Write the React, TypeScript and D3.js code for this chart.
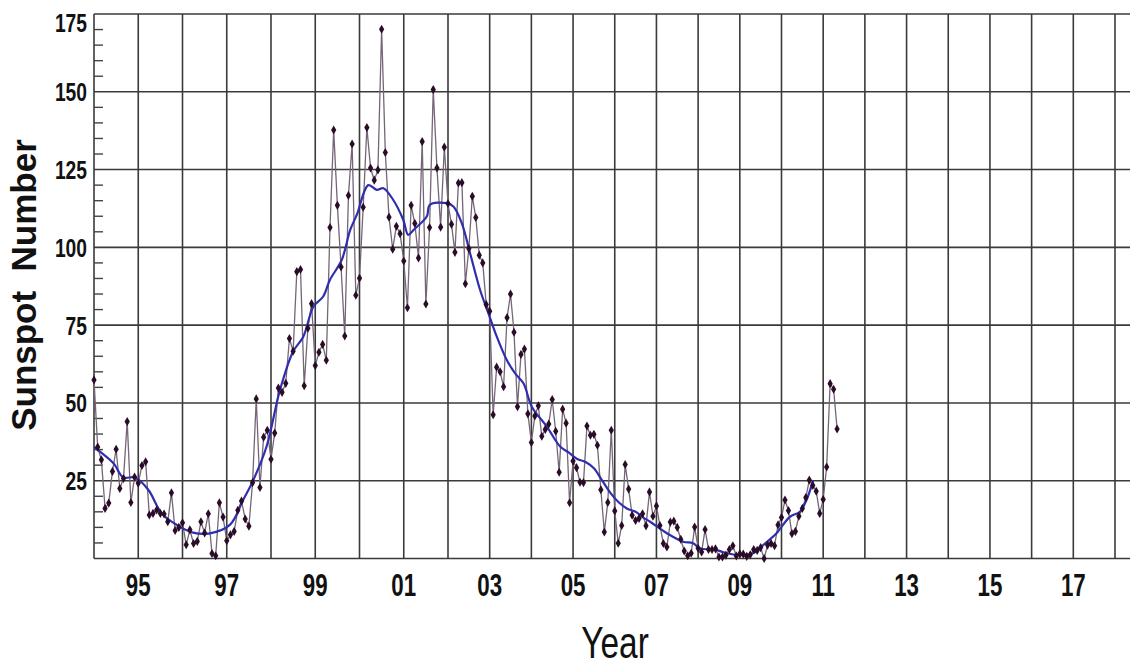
import { useEffect, useRef } from "react";
import * as d3 from "d3";

const START_YEAR = 1994;

// monthly sunspot numbers, one value per month from Jan 1994
const monthly: number[] = [
  // 1994
  57.4, 35.8, 31.7, 16.1, 17.8, 28.0, 35.1, 22.5, 25.7, 44.0, 18.0, 26.2,
  // 1995
  24.2, 29.9, 31.1, 14.0, 14.5, 15.6, 14.5, 14.3, 11.8, 21.1, 9.0, 10.0,
  // 1996
  11.5, 4.4, 9.2, 4.8, 5.5, 11.8, 8.2, 14.4, 1.6, 0.9, 17.9, 13.3,
  // 1997
  5.7, 7.6, 8.7, 15.5, 18.5, 12.7, 10.4, 24.4, 51.3, 22.8, 39.0, 41.2,
  // 1998
  31.9, 40.3, 54.8, 53.4, 56.3, 70.7, 66.6, 92.2, 92.9, 55.5, 74.0, 81.9,
  // 1999
  62.0, 66.3, 68.8, 63.7, 106.4, 137.7, 113.5, 93.7, 71.5, 116.7, 133.2, 84.6,
  // 2000
  90.1, 112.9, 138.5, 125.5, 121.6, 124.9, 170.1, 130.5, 109.7, 99.4, 106.8, 104.4,
  // 2001
  95.6, 80.6, 113.5, 107.7, 96.6, 134.0, 81.8, 106.4, 150.7, 125.5, 106.5, 132.2,
  // 2002
  114.1, 107.4, 98.4, 120.7, 120.8, 88.3, 99.6, 116.4, 109.6, 97.5, 95.0, 81.6,
  // 2003
  79.5, 46.2, 61.5, 60.0, 55.2, 77.4, 85.0, 72.7, 48.8, 65.6, 67.3, 46.5,
  // 2004
  37.3, 45.8, 49.1, 39.3, 41.5, 43.2, 51.1, 40.9, 27.7, 48.0, 43.5, 17.9,
  // 2005
  31.3, 29.2, 24.5, 24.4, 42.6, 39.6, 39.9, 36.4, 22.1, 8.5, 18.0, 41.2,
  // 2006
  15.3, 4.9, 10.6, 30.2, 22.3, 13.9, 12.2, 12.9, 14.4, 10.5, 21.4, 13.6,
  // 2007
  16.9, 10.6, 4.8, 3.7, 11.7, 12.0, 10.0, 6.2, 2.4, 0.9, 1.7, 10.1,
  // 2008
  3.3, 2.1, 9.3, 2.9, 2.9, 3.1, 0.5, 0.5, 1.1, 2.9, 4.1, 0.8,
  // 2009
  1.5, 1.4, 0.7, 1.2, 2.9, 2.6, 3.5, 0.0, 4.3, 4.8, 4.1, 10.8,
  // 2010
  13.2, 18.8, 15.4, 8.0, 8.7, 13.6, 16.1, 19.6, 25.2, 23.5, 21.6, 14.5,
  // 2011
  19.0, 29.4, 56.2, 54.4, 41.6,
];

// smoothed sunspot number (blue curve)
const smoothYears = [
  1994.0, 1994.44, 1994.66, 1994.93, 1995.23, 1995.53, 1995.87, 1996.24, 1996.62,
  1997.07, 1997.37, 1997.6, 1997.9, 1998.2, 1998.5, 1998.73, 1998.96, 1999.18,
  1999.33, 1999.6, 1999.79, 1999.94, 2000.2, 2000.39, 2000.54, 2000.76, 2000.99,
  2001.1, 2001.22, 2001.52, 2001.59, 2001.97, 2002.13, 2002.33, 2002.53, 2002.77,
  2002.97, 2003.17, 2003.41, 2003.61, 2003.81, 2004.01, 2004.37, 2004.69, 2004.9,
  2005.1, 2005.3, 2005.5, 2005.7, 2005.9, 2006.1, 2006.3, 2006.5, 2006.7, 2006.85,
  2007.25, 2007.64, 2007.88, 2008.04, 2008.44, 2008.68, 2009.08, 2009.32, 2009.56,
  2009.88, 2010.2, 2010.44, 2010.6, 2010.76,
];
const smoothValues = [
  35.8, 30.6, 26.1, 26.0, 22.0, 14.5, 10.8, 8.3, 8.1,
  10.8, 18.8, 25.2, 36.0, 54.0, 66.5, 71.3, 81.0, 84.2,
  89.5, 96.0, 105.6, 110.5, 120.0, 118.5, 119.0, 115.3, 108.8,
  104.0, 105.6, 109.9, 113.7, 114.2, 113.1, 107.8, 98.1, 86.3,
  78.8, 71.3, 63.8, 59.5, 56.3, 48.8, 42.4, 36.0, 34.0,
  32.0, 31.0, 29.0, 25.0, 21.0, 18.0, 16.0, 15.0, 13.0, 11.8,
  8.1, 5.4, 4.9, 3.3, 2.7, 1.7, 1.1, 1.7, 4.3,
  8.1, 13.4, 15.0, 18.8, 25.2,
];

const yTicks = [25, 50, 75, 100, 125, 150, 175];
const gridYears = d3.range(1995, 2019);
const labelYears = [1995, 1997, 1999, 2001, 2003, 2005, 2007, 2009, 2011, 2013, 2015, 2017];

const W = 1130;
const H = 666;
const FONT = "'Liberation Sans', Arial, sans-serif";

export default function App() {
  const svgRef = useRef<SVGSVGElement>(null);

  useEffect(() => {
    if (!svgRef.current) return;
    const svg = d3.select(svgRef.current);
    svg.selectAll("*").remove();

    const left = 94, top = 14, bottom = 558.5;

    // the source axis is slightly stretched before 2002
    const x = d3.scaleLinear().domain([1994, 2002, 2018]).range([left, 448, 1115]);
    const y = d3.scaleLinear().domain([0, 175]).range([bottom, top]);

    const grid = svg.append("g").attr("stroke", "#3a3a3a").attr("stroke-width", 1.6);

    // vertical grid
    gridYears.forEach((yr) => {
      grid.append("line")
        .attr("x1", x(yr)).attr("x2", x(yr))
        .attr("y1", top).attr("y2", bottom);
    });

    // horizontal grid + frame
    [0, ...yTicks].forEach((v) => {
      grid.append("line")
        .attr("x1", left).attr("x2", W)
        .attr("y1", y(v)).attr("y2", y(v));
    });
    grid.append("line")
      .attr("x1", left).attr("x2", left)
      .attr("y1", top).attr("y2", bottom);

    // minor ticks on the left edge, every 5
    d3.range(5, 175, 5).filter((v) => v % 25 !== 0).forEach((v) => {
      svg.append("line")
        .attr("x1", left).attr("x2", left + 9)
        .attr("y1", y(v)).attr("y2", y(v))
        .attr("stroke", "#444")
        .attr("stroke-width", 1.4);
    });

    // ── Monthly values ─────────────────────────────────────────
    const monthX = (i: number) => x(START_YEAR + i / 12);

    const monthLine = d3.line<number>()
      .x((_, i) => monthX(i))
      .y((d) => y(d));

    svg.append("path")
      .datum(monthly)
      .attr("fill", "none")
      .attr("stroke", "#756677")
      .attr("stroke-width", 1.3)
      .attr("d", monthLine);

    // ── Smoothed curve ─────────────────────────────────────────
    const smoothLine = d3.line<number>()
      .x((_, i) => x(smoothYears[i]))
      .y((d) => y(d))
      .curve(d3.curveCatmullRom);

    svg.append("path")
      .datum(smoothValues)
      .attr("fill", "none")
      .attr("stroke", "#2f2fae")
      .attr("stroke-width", 2.2)
      .attr("d", smoothLine);

    // markers
    const diamond = d3.symbol().type(d3.symbolDiamond).size(24);
    svg.append("g")
      .selectAll("path")
      .data(monthly)
      .join("path")
      .attr("transform", (d, i) => `translate(${monthX(i)},${y(d)})`)
      .attr("d", diamond)
      .attr("fill", "#2a0c28");

    // ── Axis labels (narrowed bold, like the original) ─────────
    yTicks.forEach((v) => {
      svg.append("text")
        .attr("transform", `translate(87,${Math.max(y(v), top + 9)}) scale(0.74,1)`)
        .attr("dy", "0.36em")
        .attr("text-anchor", "end")
        .attr("font-family", FONT)
        .attr("font-weight", "bold")
        .attr("font-size", 26)
        .attr("fill", "#111")
        .text(v);
    });

    labelYears.forEach((yr) => {
      svg.append("text")
        .attr("transform", `translate(${x(yr)},596) scale(0.72,1)`)
        .attr("text-anchor", "middle")
        .attr("font-family", FONT)
        .attr("font-weight", "bold")
        .attr("font-size", 31)
        .attr("fill", "#111")
        .text(String(yr).slice(2));
    });

    svg.append("text")
      .attr("transform", "translate(615,658) scale(0.76,1)")
      .attr("text-anchor", "middle")
      .attr("font-family", FONT)
      .attr("font-size", 44)
      .attr("fill", "#111")
      .text("Year");

    svg.append("text")
      .attr("transform", "translate(36,285) rotate(-90)")
      .attr("text-anchor", "middle")
      .attr("font-family", FONT)
      .attr("font-weight", "bold")
      .attr("font-size", 35)
      .attr("fill", "#111")
      .style("white-space", "pre")
      .text("Sunspot  Number");
  }, []);

  return (
    <svg
      ref={svgRef}
      width={W}
      height={H}
      style={{ position: "absolute", left: 0, top: 0, background: "#fff" }}
    />
  );
}
